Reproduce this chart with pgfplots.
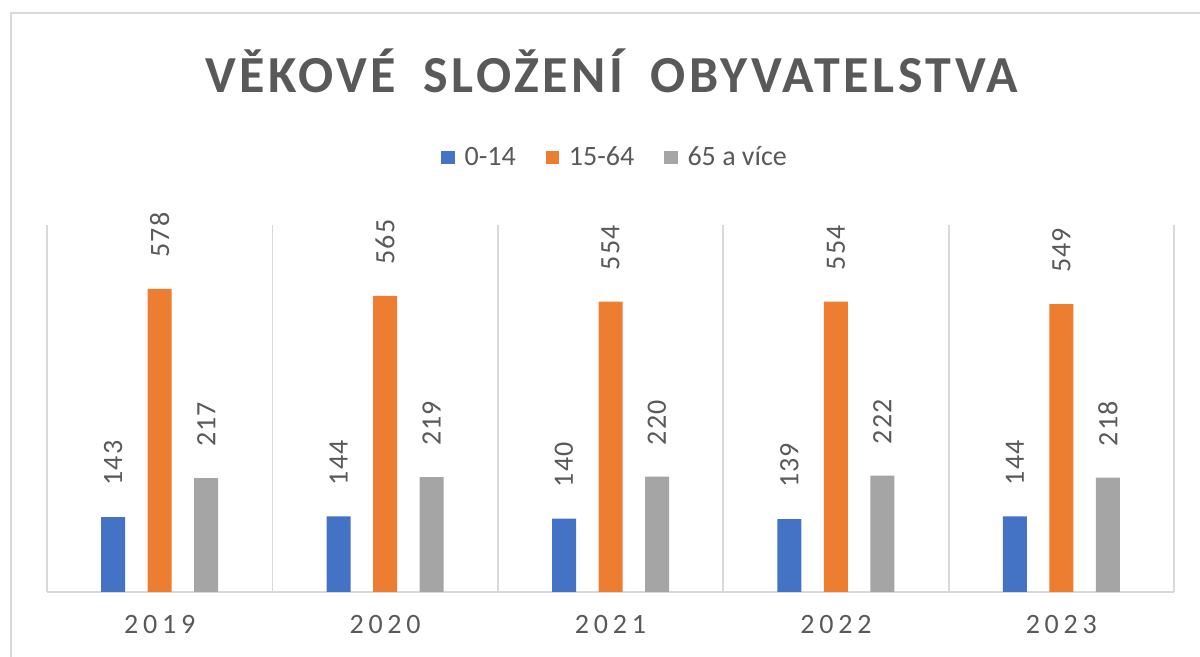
\documentclass[border=0pt]{standalone}
\usepackage{pgfplots}
\pgfplotsset{compat=1.18}
\usepackage{fontspec}
\setmainfont{Carlito}

\definecolor{cblue}{HTML}{4472C4}
\definecolor{corange}{HTML}{ED7D31}
\definecolor{cgray}{HTML}{A5A5A5}
\definecolor{txt}{HTML}{595959}
\definecolor{sep}{HTML}{D9D9D9}

\begin{document}
\begin{tikzpicture}
\useasboundingbox (0,0) rectangle (600pt,328.5pt);
% outer chart frame (only top and left are visible in the crop)
\draw[sep, line width=1.4pt] (5.5pt,-2pt) -- (5.5pt,322pt) -- (602pt,322pt);

\begin{axis}[
    at={(23.5pt,32.5pt)}, anchor=south west,
    scale only axis,
    width=563.5pt, height=183.5pt,
    ybar=11.25pt, bar width=12pt,
    xmin=-0.5, xmax=4.5, ymin=0, ymax=700,
    xtick={0,...,4},
    xticklabels={2019,2020,2021,2022,2023},
    minor xtick={-0.5,0.5,...,4.5},
    xminorgrids,
    minor grid style={sep, line width=0.9pt},
    ytick=\empty,
    axis y line=none,
    axis x line=bottom,
    x axis line style={sep, line width=0.9pt, -},
    major tick length=0pt, minor tick length=0pt,
    xticklabel style={font=\fontsize{14}{14}\selectfont\addfontfeatures{LetterSpace=17},
        text=txt, yshift=-8pt},
    nodes near coords,
    every node near coord/.append style={rotate=90, anchor=west,
        inner xsep=15.5pt, inner ysep=0pt,
        font=\fontsize{14}{14}\selectfont\addfontfeatures{LetterSpace=4}, text=txt},
    /pgf/number format/assume math mode=true,
    legend columns=3,
    legend style={at={(0.505,1.183)}, anchor=center, draw=none,
        font=\fontsize{14}{14}\selectfont, text=txt,
        /tikz/every odd column/.append style={column sep=3pt},
        /tikz/every even column/.append style={column sep=13pt}},
    legend image code/.code={\fill[#1] (0pt,-3.3pt) rectangle (6.6pt,3.3pt);},
    clip=false
]

% 0-14
\addplot[fill=cblue, draw=none] coordinates {
    (0,143) (1,144) (2,140) (3,139) (4,144)
};
% 15-64
\addplot[fill=corange, draw=none] coordinates {
    (0,578) (1,565) (2,554) (3,554) (4,549)
};
% 65 a více
\addplot[fill=cgray, draw=none] coordinates {
    (0,217) (1,219) (2,220) (3,222) (4,218)
};
\legend{0-14, 15-64, 65 a více}

\node[anchor=base, text=txt,
      font=\fontsize{26}{26}\selectfont\bfseries\addfontfeatures{LetterSpace=7}]
    at (rel axis cs:0.501,1.362) {VĚKOVÉ\hspace{6pt} SLOŽENÍ\hspace{6pt} OBYVATELSTVA};
\end{axis}
\end{tikzpicture}
\end{document}
